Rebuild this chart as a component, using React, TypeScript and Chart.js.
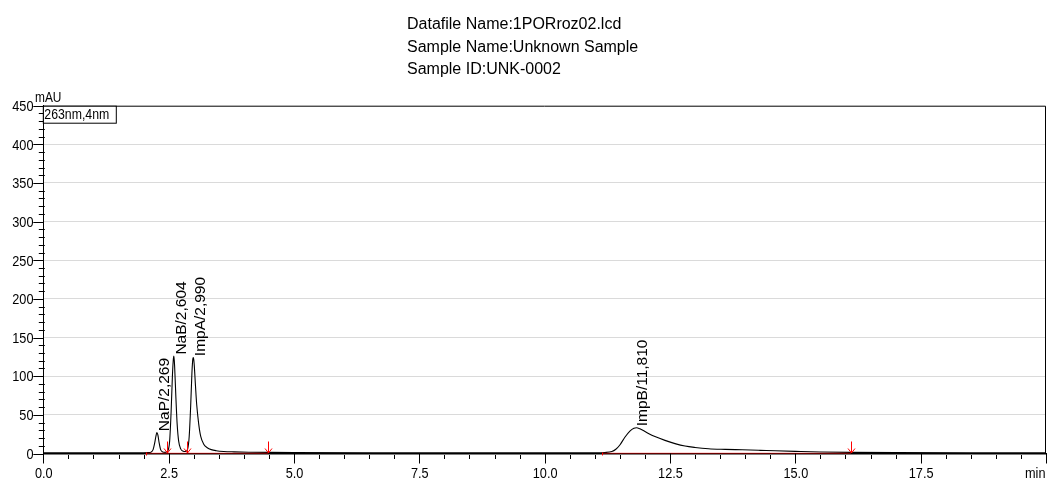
import React, { useEffect, useRef } from 'react';
import { Chart, registerables } from 'chart.js';

Chart.register(...registerables);

// ---------- text ----------
const titleLines = ['Datafile Name:1PORroz02.lcd', 'Sample Name:Unknown Sample', 'Sample ID:UNK-0002'];
const channelLabel = '263nm,4nm';
const yUnit = 'mAU';
const xUnit = 'min';

// ---------- chromatogram (time in min, signal in mAU) ----------
const timeMin = [
  0, 1, 2.0, 2.1, 2.15, 2.19, 2.22, 2.245, 2.265, 2.285, 2.31, 2.34, 2.38, 2.43,
  2.48, 2.52, 2.55, 2.575, 2.595, 2.605, 2.62, 2.645, 2.67, 2.7, 2.74, 2.79, 2.84,
  2.88, 2.91, 2.94, 2.965, 2.985, 2.995, 3.01, 3.035, 3.06, 3.1, 3.14, 3.2, 3.27,
  3.35, 3.45, 3.6, 3.8, 4.1, 4.5, 5.0, 7.0, 9.0, 10.5, 11.0, 11.2, 11.34, 11.42,
  11.5, 11.6, 11.7, 11.78, 11.83, 11.9, 12.0, 12.07, 12.2, 12.4, 12.6, 12.8, 13.0,
  13.27, 13.6, 13.94, 14.3, 14.6, 15.0, 15.5, 16.1, 17.0, 18.5, 20.0,
];
const signalMAU = [
  1.0, 1.0, 1.0, 1.1, 1.8, 5, 13, 22, 27, 24, 14, 5, 2, 1.5,
  3, 16, 55, 100, 123, 126, 112, 72, 38, 16, 6, 3, 2.5,
  6, 22, 62, 105, 123, 124, 115, 88, 63, 38, 22, 12, 7.5,
  5, 3.6, 2.6, 2.1, 1.7, 1.4, 1.2, 1.0, 1.0, 1.0, 1.0, 1.3, 2.5, 5.5,
  11, 21, 29, 32.8, 33.3, 32, 28.5, 26, 22, 17, 12.8, 9.6, 7.8,
  6.2, 5.4, 4.8, 4.1, 3.5, 2.8, 2.0, 1.4, 1.1, 1.0, 1.0,
];

// ---------- peaks ----------
const peakLabels = ['NaP/2,269', 'NaB/2,604', 'ImpA/2,990', 'ImpB/11,810'];
const peakTimes = [2.269, 2.604, 2.99, 11.81];
const peakHeights = [27, 126, 124, 33.3];

// ---------- integration baselines & marks ----------
const baselineStarts = [2.04, 11.15];
const baselineEnds = [4.49, 16.11];
const baselineLevel = [0.2, 0.2];
const arrowTimes = [2.46, 2.87, 4.49, 16.11];

// ---------- axes ----------
const xMin = 0;
const xMax = 20;
const xMinorStep = 0.5;
const xMajorStep = 2.5;
const yMin = 0;
const yMax = 450;
const yMinorStep = 10;
const yMajorStep = 50;

const REG = '"Liberation Sans", Arial, Helvetica, sans-serif';
const NARROW_SCALE = 0.82;

const isMultiple = (v: number, step: number) => Math.abs(v / step - Math.round(v / step)) < 1e-6;

function narrowText(ctx: any, text: string, x: number, y: number, size: number, align: string, baseline: string) {
  ctx.save();
  ctx.font = size + 'px ' + REG;
  ctx.textAlign = align;
  ctx.textBaseline = baseline;
  ctx.translate(x, y);
  ctx.scale(NARROW_SCALE, 1);
  ctx.fillText(text, 0, 0);
  ctx.restore();
}

export default function App() {
  const ref = useRef<HTMLCanvasElement | null>(null);

  useEffect(() => {
    const canvas = ref.current;
    if (!canvas) return;

    const mainData = timeMin.map((t, i) => ({ x: t, y: signalMAU[i] }));
    const baseSets = baselineStarts.map((s, i) => ({
      label: 'baseline' + i,
      data: [
        { x: s, y: baselineLevel[i] },
        { x: baselineEnds[i], y: baselineLevel[i] },
      ],
      borderColor: '#ff0000',
      borderWidth: 1,
      pointRadius: 0,
      fill: false,
      order: 0,
    }));

    const decor = {
      id: 'decor',
      afterDatasetsDraw(chart: any) {
        const ctx = chart.ctx;
        const xs = chart.scales.x;
        const ys = chart.scales.y;
        const ca = chart.chartArea;
        ctx.save();

        // top and right frame
        ctx.strokeStyle = '#000';
        ctx.lineWidth = 1;
        ctx.beginPath();
        ctx.moveTo(ca.left, ca.top + 0.5);
        ctx.lineTo(ca.right - 0.5, ca.top + 0.5);
        ctx.lineTo(ca.right - 0.5, ca.bottom);
        ctx.stroke();

        // x ticks
        ctx.beginPath();
        xs.ticks.forEach((t: any) => {
          const px = Math.round(xs.getPixelForValue(t.value)) + 0.5;
          if (isMultiple(t.value, xMajorStep)) {
            ctx.moveTo(px, ca.bottom);
            ctx.lineTo(px, ca.bottom + 10);
          } else {
            ctx.moveTo(px, ca.bottom + 1.5);
            ctx.lineTo(px, ca.bottom + 5.5);
          }
        });
        // y ticks
        ys.ticks.forEach((t: any) => {
          const py = Math.round(ys.getPixelForValue(t.value)) + 0.5;
          if (isMultiple(t.value, yMajorStep)) {
            ctx.moveTo(ca.left - 10, py);
            ctx.lineTo(ca.left, py);
          } else {
            ctx.moveTo(ca.left - 4.5, py);
            ctx.lineTo(ca.left + 1.5, py);
          }
        });
        ctx.stroke();

        // tick labels (from the scales' own ticks)
        ctx.fillStyle = '#000';
        xs.ticks.forEach((t: any) => {
          const v = t.value;
          if (!isMultiple(v, xMajorStep) || v >= xMax) return;
          narrowText(ctx, v.toFixed(1), xs.getPixelForValue(v) + 0.5, 478, 15.5, 'center', 'alphabetic');
        });
        ys.ticks.forEach((t: any) => {
          const v = t.value;
          if (!isMultiple(v, yMajorStep)) return;
          narrowText(ctx, String(v), 33.5, ys.getPixelForValue(v) + 1, 15.5, 'right', 'middle');
        });

        // channel box
        ctx.fillStyle = '#fff';
        ctx.fillRect(ca.left + 0.5, ca.top + 0.5, 72, 17);
        ctx.strokeRect(ca.left, ca.top + 0.5, 73, 17);
        ctx.fillStyle = '#000';
        narrowText(ctx, channelLabel, ca.left + 1, ca.top + 13.5, 15, 'left', 'alphabetic');

        // units
        narrowText(ctx, yUnit, 35, ca.top - 3.5, 14.5, 'left', 'alphabetic');
        narrowText(ctx, xUnit, ca.right - 0.5, 478, 15.5, 'right', 'alphabetic');

        // integration marks
        ctx.strokeStyle = '#ff0000';
        ctx.lineWidth = 1;
        ctx.beginPath();
        arrowTimes.forEach((t) => {
          const px = Math.round(xs.getPixelForValue(t)) + 0.5;
          const yb = ca.bottom - 0.5;
          ctx.moveTo(px, yb - 11.5);
          ctx.lineTo(px, yb);
          ctx.moveTo(px - 3.5, yb - 4.5);
          ctx.lineTo(px, yb);
          ctx.lineTo(px + 3.5, yb - 4.5);
        });
        baselineStarts.forEach((t) => {
          const px = Math.round(xs.getPixelForValue(t)) + 0.5;
          ctx.moveTo(px, ca.bottom - 1);
          ctx.lineTo(px, ca.bottom + 2);
        });
        ctx.stroke();

        // peak labels
        ctx.fillStyle = '#000';
        ctx.font = '15.5px ' + REG;
        ctx.textAlign = 'left';
        ctx.textBaseline = 'top';
        peakLabels.forEach((lab, i) => {
          const px = xs.getPixelForValue(peakTimes[i]);
          const py = ys.getPixelForValue(peakHeights[i]);
          ctx.save();
          ctx.translate(px, py - 1.5);
          ctx.rotate(-Math.PI / 2);
          ctx.fillText(lab, 0, 0);
          ctx.restore();
        });

        // title
        ctx.font = '16px ' + REG;
        ctx.textAlign = 'left';
        ctx.textBaseline = 'alphabetic';
        titleLines.forEach((line, i) => {
          ctx.fillText(line, 407, 29 + i * 22.5);
        });

        ctx.restore();
      },
    };

    const chart = new Chart(canvas, {
      type: 'line',
      data: {
        datasets: [
          {
            label: 'signal',
            data: mainData,
            borderColor: '#000',
            borderWidth: 1.1,
            pointRadius: 0,
            fill: false,
            cubicInterpolationMode: 'monotone',
            order: 1,
          } as any,
          ...baseSets,
        ],
      },
      options: {
        responsive: false,
        animation: false,
        devicePixelRatio: 1,
        parsing: false as any,
        layout: { padding: { left: 0, right: 3, top: 105.7, bottom: 0 } },
        plugins: {
          legend: { display: false },
          tooltip: { enabled: false },
          title: { display: false },
        },
        scales: {
          x: {
            type: 'linear',
            min: xMin,
            max: xMax,
            afterFit: (s: any) => {
              s.height = 25.5;
            },
            grid: { display: false, drawTicks: false },
            border: { display: true, color: '#000', width: 1.5 },
            ticks: {
              display: false,
              stepSize: xMinorStep,
              autoSkip: false,
              maxRotation: 0,
            },
          },
          y: {
            type: 'linear',
            min: yMin,
            max: yMax,
            afterFit: (s: any) => {
              s.width = 43.3;
            },
            grid: {
              drawTicks: false,
              color: (c: any) => {
                const v = c.tick ? c.tick.value : 0;
                if (v <= yMin || v >= yMax) return 'rgba(0,0,0,0)';
                return isMultiple(v, yMajorStep) ? '#dadada' : 'rgba(0,0,0,0)';
              },
              lineWidth: 1,
            },
            border: { display: true, color: '#000', width: 1 },
            ticks: {
              display: false,
              stepSize: yMinorStep,
              autoSkip: false,
            },
          },
        },
      },
      plugins: [decor],
    });

    return () => {
      chart.destroy();
    };
  }, []);

  return (
    <div style={{ position: 'fixed', left: 0, top: 0, width: 1049, height: 479, background: '#fff' }}>
      <canvas ref={ref} width={1049} height={479} style={{ display: 'block' }} />
    </div>
  );
}
